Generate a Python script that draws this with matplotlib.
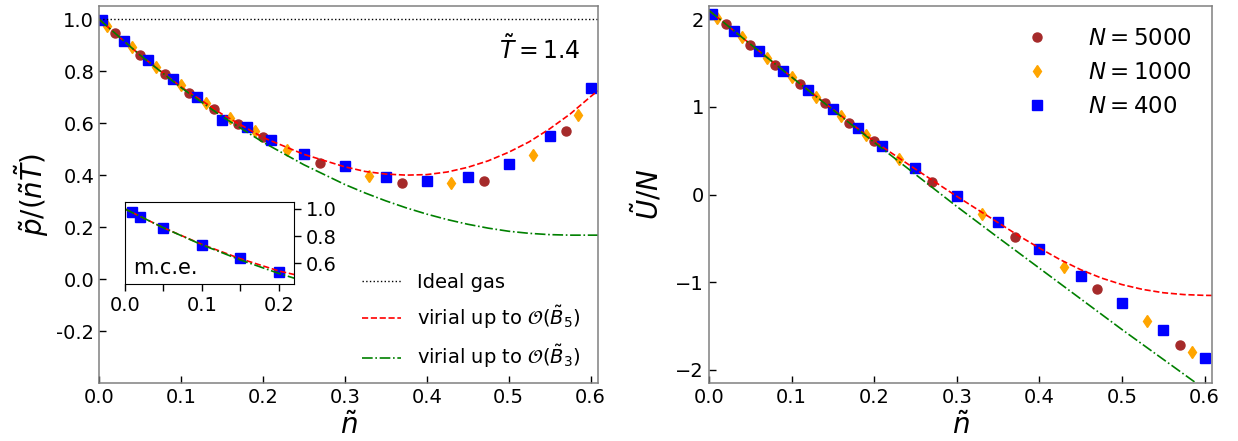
import matplotlib
matplotlib.use('Agg')
import matplotlib.pyplot as plt
from matplotlib.ticker import FixedLocator, FormatStrFormatter, MultipleLocator
from matplotlib.lines import Line2D

# simulation points
n_5000 = [0.02, 0.05, 0.08, 0.11, 0.14, 0.17, 0.20, 0.27, 0.37, 0.47, 0.57]
p_5000 = [0.945, 0.862, 0.791, 0.717, 0.656, 0.596, 0.547, 0.447, 0.371, 0.378, 0.568]
u_5000 = [1.943, 1.711, 1.475, 1.259, 1.046, 0.821, 0.612, 0.148, -0.483, -1.076, -1.711]

n_1000 = [0.01, 0.04, 0.07, 0.10, 0.13, 0.16, 0.19, 0.23, 0.33, 0.43, 0.53, 0.585]
p_1000 = [0.973, 0.894, 0.817, 0.746, 0.678, 0.618, 0.571, 0.496, 0.396, 0.368, 0.477, 0.633]
u_1000 = [2.019, 1.798, 1.563, 1.342, 1.114, 0.897, 0.677, 0.411, -0.217, -0.825, -1.441, -1.795]

n_400 = [0.004, 0.03, 0.06, 0.09, 0.12, 0.15, 0.18, 0.21, 0.25, 0.30, 0.35, 0.40, 0.45, 0.50, 0.55, 0.60]
p_400 = [0.996, 0.917, 0.842, 0.768, 0.701, 0.614, 0.586, 0.537, 0.483, 0.435, 0.394, 0.377, 0.391, 0.441, 0.550, 0.736]
u_400 = [2.065, 1.867, 1.639, 1.411, 1.190, 0.973, 0.764, 0.551, 0.308, -0.019, -0.316, -0.620, -0.932, -1.236, -1.548, -1.863]

# microcanonical inset
mce_n = [0.01, 0.02, 0.05, 0.10, 0.15, 0.20]
mce_p = [0.976, 0.941, 0.863, 0.734, 0.639, 0.541]

# virial curves
ideal_n = [0.0, 0.61]
ideal_p = [1.0, 1.0]

vir_n = [0.0, 0.05, 0.10, 0.15, 0.20, 0.25, 0.30, 0.325, 0.35, 0.375, 0.40, 0.425, 0.45,
         0.475, 0.50, 0.525, 0.55, 0.575, 0.60, 0.609]
p_b5 = [1.0, 0.862, 0.740, 0.635, 0.545, 0.480, 0.432, 0.414, 0.404, 0.400, 0.402, 0.412, 0.430,
        0.455, 0.488, 0.528, 0.578, 0.635, 0.702, 0.725]
p_b3 = [1.0, 0.862, 0.737, 0.626, 0.527, 0.440, 0.364, 0.331, 0.301, 0.274, 0.250, 0.229, 0.211,
        0.196, 0.184, 0.176, 0.171, 0.169, 0.169, 0.169]
u_b5 = [2.10, 1.717, 1.342, 0.972, 0.607, 0.290, -0.020, -0.170, -0.320, -0.470, -0.610, -0.742, -0.857,
        -0.952, -1.027, -1.082, -1.120, -1.141, -1.150, -1.151]
u_b3 = [2.10, 1.717, 1.340, 0.966, 0.596, 0.230, -0.136, -0.313, -0.490, -0.665, -0.840, -1.015, -1.190,
        -1.365, -1.540, -1.710, -1.880, -2.050, -2.220, -2.250]

left_yticks = [-0.2, 0.0, 0.2, 0.4, 0.6, 0.8, 1.0]
right_yticks = [-2, -1, 0, 1, 2]
n_ticks = [0.0, 0.1, 0.2, 0.3, 0.4, 0.5, 0.6]


def configure_style():
    plt.rcParams['font.family'] = 'DejaVu Sans'
    plt.rcParams['mathtext.fontset'] = 'dejavusans'
    plt.rcParams['xtick.labelsize'] = 14
    plt.rcParams['ytick.labelsize'] = 14
    plt.rcParams['axes.labelsize'] = 20
    plt.rcParams['legend.fontsize'] = 14


def style_main_axes(ax):
    for sp in ax.spines.values():
        sp.set_color('#808080')
        sp.set_linewidth(1.1)
    ax.tick_params(direction='in', length=5, width=1, top=False, right=False)
    ax.set_xlim(0.0, 0.609)
    ax.set_xticks(n_ticks)
    ax.xaxis.set_major_formatter(FormatStrFormatter('%.1f'))
    ax.set_xlabel(r'$\tilde{n}$')


def draw_points(ax, n_a, y_a, n_b, y_b, n_c, y_c):
    ax.plot(n_a, y_a, 'o', color='brown', ms=6.5, ls='none', label=r'$N = 5000$')
    ax.plot(n_b, y_b, 'd', color='orange', ms=6.0, ls='none', label=r'$N = 1000$')
    ax.plot(n_c, y_c, 's', color='blue', ms=6.5, ls='none', label=r'$N = 400$')


def main():
    configure_style()
    fig = plt.figure(figsize=(12.38, 4.41), dpi=100)
    ax1 = fig.add_axes([0.080, 0.1315, 0.403, 0.855])
    ax2 = fig.add_axes([0.5727, 0.1315, 0.4063, 0.855])

    # pressure
    draw_points(ax1, n_5000, p_5000, n_1000, p_1000, n_400, p_400)
    ax1.plot(ideal_n, ideal_p, ':', color='black', lw=1.0)
    ax1.plot(vir_n, p_b5, '--', color='red', lw=1.2)
    ax1.plot(vir_n, p_b3, '-.', color='green', lw=1.2)
    style_main_axes(ax1)
    ax1.set_ylim(-0.40, 1.051)
    ax1.set_yticks(left_yticks)
    ax1.yaxis.set_major_formatter(FormatStrFormatter('%.1f'))
    ax1.set_ylabel(r'$\tilde{p}/(\tilde{n}\tilde{T})$')
    ax1.text(0.966, 0.883, r'$\tilde{T} = 1.4$', transform=ax1.transAxes,
             ha='right', va='center', fontsize=17)

    handles = [
        Line2D([], [], ls=':', color='black', lw=1.0, label='Ideal gas'),
        Line2D([], [], ls='--', color='red', lw=1.2, label=r'virial up to $\mathcal{O}(\tilde{B}_5)$'),
        Line2D([], [], ls='-.', color='green', lw=1.2, label=r'virial up to $\mathcal{O}(\tilde{B}_3)$'),
    ]
    ax1.legend(handles=handles, loc='lower right', bbox_to_anchor=(0.99, 0.0), frameon=False,
               labelspacing=0.62, borderaxespad=0.25)

    # inset, microcanonical
    axin = fig.add_axes([0.1007, 0.356, 0.1365, 0.186])
    axin.plot(mce_n, mce_p, 's', color='blue', ms=6.5, ls='none')
    axin.plot(vir_n, p_b5, '--', color='red', lw=1.2)
    axin.plot(vir_n, p_b3, '-.', color='green', lw=1.2)
    axin.set_xlim(0.0, 0.219)
    axin.set_ylim(0.45, 1.05)
    axin.xaxis.set_major_locator(FixedLocator([0.0, 0.1, 0.2]))
    axin.xaxis.set_minor_locator(MultipleLocator(0.05))
    axin.xaxis.set_major_formatter(FormatStrFormatter('%.1f'))
    axin.set_yticks([0.6, 0.8, 1.0])
    axin.yaxis.set_major_formatter(FormatStrFormatter('%.1f'))
    axin.yaxis.tick_right()
    axin.tick_params(which='both', direction='out', length=5, width=1)
    axin.tick_params(axis='y', which='both', left=False, right=True, labelleft=False, labelright=True)
    axin.text(0.05, 0.12, 'm.c.e.', transform=axin.transAxes, fontsize=15, va='baseline')

    # energy
    draw_points(ax2, n_5000, u_5000, n_1000, u_1000, n_400, u_400)
    ax2.plot(vir_n, u_b5, '--', color='red', lw=1.2)
    ax2.plot(vir_n, u_b3, '-.', color='green', lw=1.2)
    style_main_axes(ax2)
    ax2.set_ylim(-2.15, 2.152)
    ax2.set_yticks(right_yticks)
    ax2.set_ylabel(r'$\tilde{U}/N$', labelpad=8)
    ax2.legend(loc='upper right', frameon=False, handletextpad=1.2, fontsize=16.5)

    fig.savefig('out.png', dpi=100)
    plt.close(fig)


if __name__ == '__main__':
    main()
